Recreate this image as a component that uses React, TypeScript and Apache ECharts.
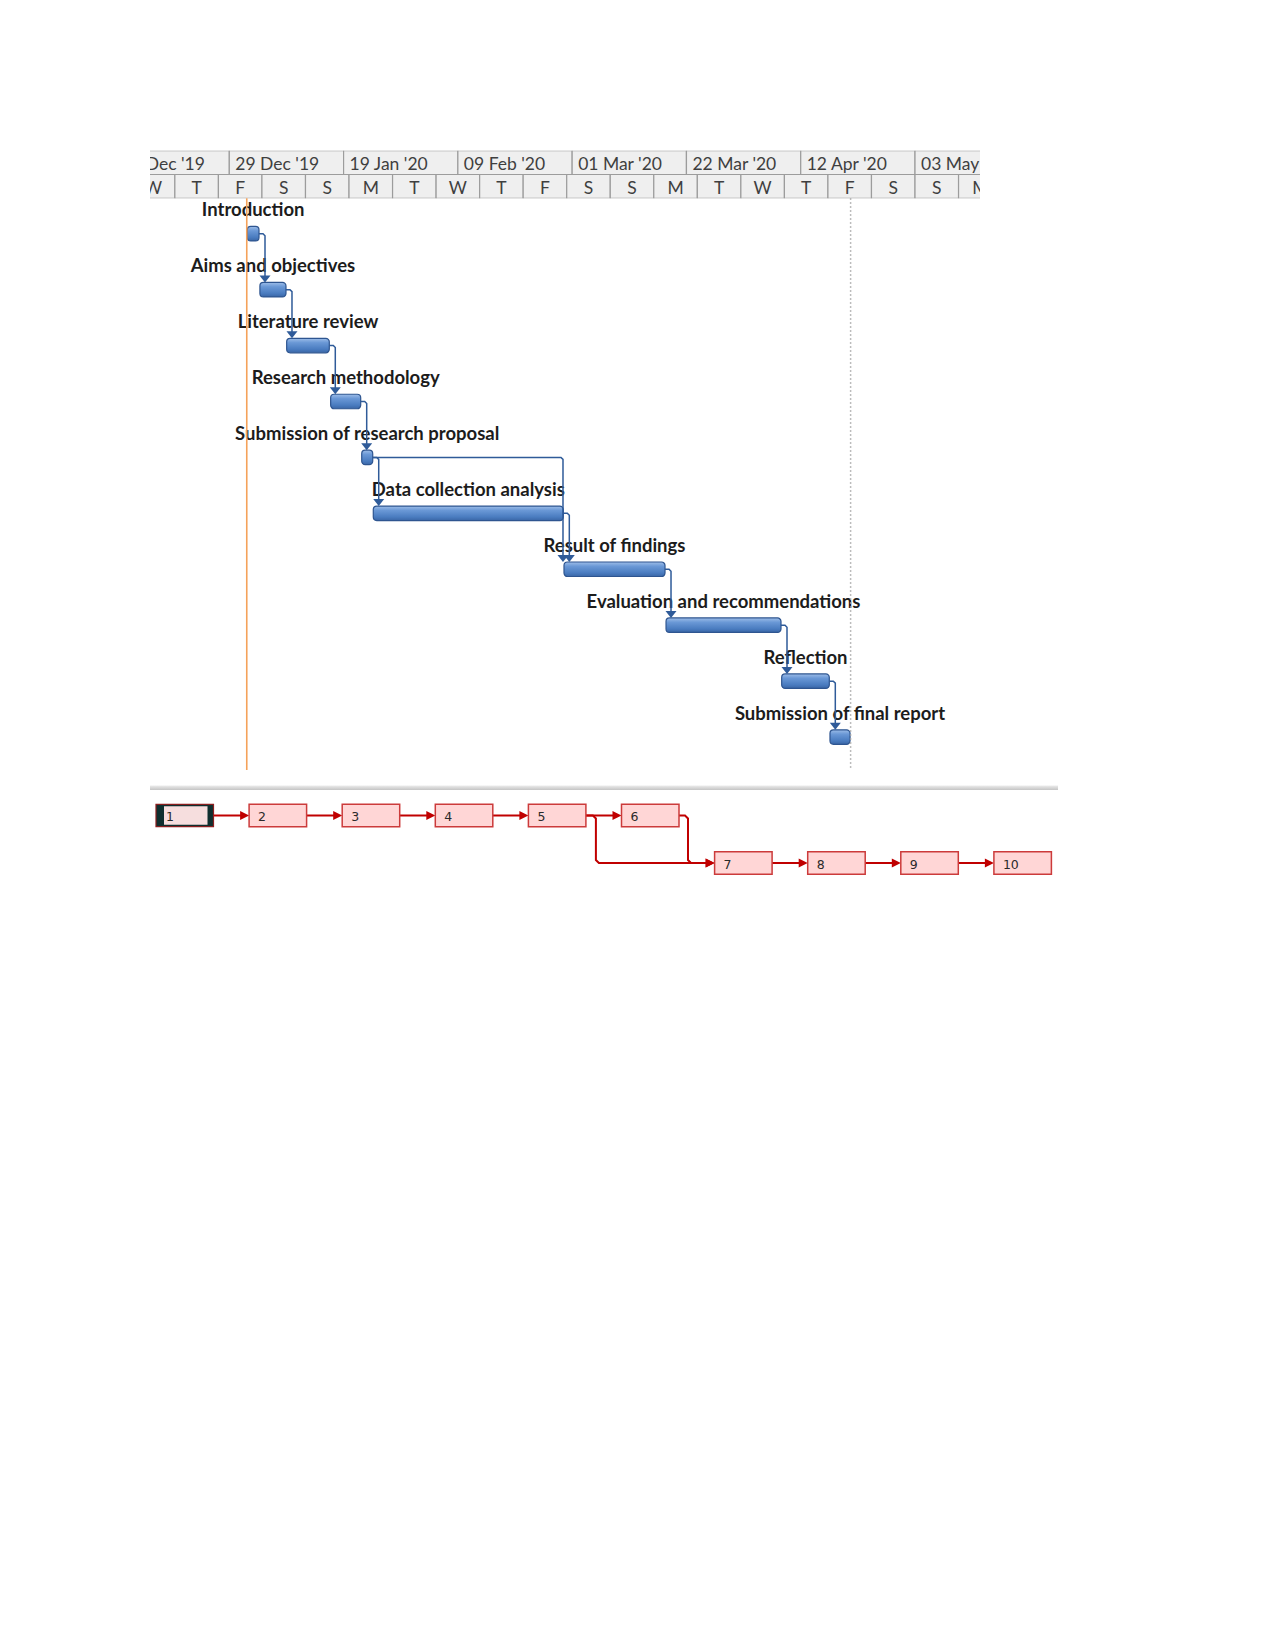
import React, { useEffect, useRef } from "react";
import * as echarts from "echarts";

// ---------- DATA ----------
const taskNames = [
  "Introduction",
  "Aims and objectives",
  "Literature review",
  "Research methodology",
  "Submission of research proposal",
  "Data collection analysis",
  "Result of findings",
  "Evaluation and recommendations",
  "Reflection",
  "Submission of final report",
];
const taskStarts = [
  "2020-01-01 07:30",
  "2020-01-03 15:00",
  "2020-01-08 13:00",
  "2020-01-16 15:00",
  "2020-01-22 08:00",
  "2020-01-24 11:00",
  "2020-02-28 12:00",
  "2020-03-18 06:00",
  "2020-04-08 12:00",
  "2020-04-17 09:00",
];
const taskEnds = [
  "2020-01-03 11:00",
  "2020-01-08 10:00",
  "2020-01-16 09:00",
  "2020-01-22 03:30",
  "2020-01-24 08:30",
  "2020-02-28 09:00",
  "2020-03-18 01:30",
  "2020-04-08 09:00",
  "2020-04-17 06:00",
  "2020-04-21 01:30",
];
// dependencies (task numbers, 1-based)
const linkFrom = [1, 2, 3, 4, 5, 5, 6, 7, 8, 9];
const linkTo = [2, 3, 4, 5, 6, 7, 7, 8, 9, 10];

const statusDate = "2020-01-01 05:00";
const finishDate = "2020-04-21 04:00";
const viewStart = "2019-12-14 10:19";
const viewEnd = "2020-05-14 22:34";

// timescale tiers
const majorTickStarts = [
  "2019-12-08", "2019-12-29", "2020-01-19", "2020-02-09",
  "2020-03-01", "2020-03-22", "2020-04-12", "2020-05-03", "2020-05-24",
];
const majorTickLabels = [
  "08 Dec '19", "29 Dec '19", "19 Jan '20", "09 Feb '20",
  "01 Mar '20", "22 Mar '20", "12 Apr '20", "03 May '20",
];
const minorTickStarts = [
  "2019-12-11", "2019-12-19", "2019-12-27", "2020-01-04", "2020-01-12",
  "2020-01-20", "2020-01-28", "2020-02-05", "2020-02-13", "2020-02-21",
  "2020-02-29", "2020-03-08", "2020-03-16", "2020-03-24", "2020-04-01",
  "2020-04-09", "2020-04-17", "2020-04-25", "2020-05-03", "2020-05-11",
  "2020-05-19",
];
const minorTickLabels = [
  "W", "T", "F", "S", "S", "M", "T", "W", "T", "F",
  "S", "S", "M", "T", "W", "T", "F", "S", "S", "M",
];

// network diagram nodes (column / row in the diagram grid)
const nodeIds = ["1", "2", "3", "4", "5", "6", "7", "8", "9", "10"];
const nodeCols = [0, 1, 2, 3, 4, 5, 6, 7, 8, 9];
const nodeRows = [0, 0, 0, 0, 0, 0, 1, 1, 1, 1];
const selectedNode = 0;

// ---------- HELPERS ----------
const parseT = (s: string) => {
  const [d, tm = "00:00"] = s.split(" ");
  const [Y, M, D] = d.split("-").map(Number);
  const [h, m] = tm.split(":").map(Number);
  return new Date(Y, M - 1, D, h, m).getTime();
};

export default function App() {
  const ref = useRef<HTMLDivElement>(null);

  useEffect(() => {
    const chart = echarts.init(ref.current!, null, { renderer: "svg" });
    const xMin = parseT(viewStart);
    const xMax = parseT(viewEnd);

    const headerCells: any[] = [];
    const headerText: string[] = [];
    majorTickLabels.forEach((lab, i) => {
      headerCells.push([parseT(majorTickStarts[i]), parseT(majorTickStarts[i + 1]), 0]);
      headerText.push(lab);
    });
    minorTickLabels.forEach((lab, i) => {
      headerCells.push([parseT(minorTickStarts[i]), parseT(minorTickStarts[i + 1]), 1]);
      headerText.push(lab);
    });

    const barData = taskNames.map((_, i) => [parseT(taskStarts[i]), parseT(taskEnds[i]), i]);
    const linkData = linkFrom.map((f, i) => [f - 1, linkTo[i] - 1]);
    const BAR_H = 14.5;
    const LINK = "#2f5b99";

    const nodeData = nodeIds.map((_, i) => [i, nodeCols[i], nodeRows[i]]);
    const BOX_W = 57.5;
    const BOX_H = 22.4;
    const RED = "#c00000";

    const axisOff = { show: false, splitLine: { show: false } };

    const option: any = {
      animation: false,
      backgroundColor: "#ffffff",
      grid: [
        { left: 150, width: 830, top: 150.7, height: 47.6 },
        { left: 150, width: 830, top: 198.3, height: 571.7 },
        { left: 156, width: 931, top: 791.75, height: 95 },
      ],
      xAxis: [
        { type: "time", gridIndex: 0, min: xMin, max: xMax, ...axisOff },
        { type: "time", gridIndex: 1, min: xMin, max: xMax, ...axisOff },
        { type: "value", gridIndex: 2, min: 0, max: 10, ...axisOff },
      ],
      yAxis: [
        { type: "value", gridIndex: 0, min: 0, max: 2, inverse: true, ...axisOff },
        { type: "value", gridIndex: 1, min: -0.633, max: 9.589, inverse: true, ...axisOff },
        { type: "value", gridIndex: 2, min: -0.5, max: 1.5, inverse: true, ...axisOff },
      ],
      graphic: [
        {
          type: "rect",
          shape: { x: 150, y: 785.5, width: 908, height: 4.5 },
          style: {
            fill: {
              type: "linear", x: 0, y: 0, x2: 0, y2: 1,
              colorStops: [
                { offset: 0, color: "#ececec" },
                { offset: 1, color: "#c4c4c4" },
              ],
            },
          },
          z: 1,
        },
      ],
      series: [
        // timescale header
        {
          type: "custom",
          xAxisIndex: 0,
          yAxisIndex: 0,
          clip: true,
          data: headerCells,
          renderItem: (params: any, api: any) => {
            const tier = api.value(2);
            const p0 = api.coord([api.value(0), tier]);
            const p1 = api.coord([api.value(1), tier + 1]);
            const label = headerText[params.dataIndex];
            return {
              type: "group",
              children: [
                {
                  type: "rect",
                  shape: { x: p0[0], y: p0[1], width: p1[0] - p0[0], height: p1[1] - p0[1] },
                  style: { fill: "#efefef", stroke: "#9c9c9c", lineWidth: 1.2 },
                },
                {
                  type: "text",
                  style: {
                    text: label,
                    x: tier === 0 ? p0[0] + 6 : (p0[0] + p1[0]) / 2,
                    y: (p0[1] + p1[1]) / 2 + 1,
                    align: tier === 0 ? "left" : "center",
                    verticalAlign: "middle",
                    fill: "#3f3f3f",
                    font: "17.5px Lato",
                  },
                },
              ],
            };
          },
        },
        // task bars + labels
        {
          type: "custom",
          xAxisIndex: 1,
          yAxisIndex: 1,
          z: 3,
          data: barData,
          renderItem: (params: any, api: any) => {
            const p0 = api.coord([api.value(0), api.value(2)]);
            const p1 = api.coord([api.value(1), api.value(2)]);
            return {
              type: "group",
              children: [
                {
                  type: "rect",
                  shape: { x: p0[0], y: p0[1] - BAR_H / 2, width: p1[0] - p0[0], height: BAR_H, r: 3.5 },
                  style: {
                    fill: {
                      type: "linear", x: 0, y: 0, x2: 0, y2: 1,
                      colorStops: [
                        { offset: 0, color: "#9dbde8" },
                        { offset: 0.3, color: "#6a98d6" },
                        { offset: 0.75, color: "#4a7cc0" },
                        { offset: 1, color: "#3a66a6" },
                      ],
                    },
                    stroke: "#2e5590",
                    lineWidth: 1.2,
                  },
                },
                {
                  type: "text",
                  style: {
                    text: taskNames[params.dataIndex],
                    x: (p0[0] + p1[0]) / 2,
                    y: p0[1] - 24.5,
                    align: "center",
                    verticalAlign: "middle",
                    fill: "#1c1c1c",
                    font: "bold 18.5px Lato",
                  },
                },
              ],
            };
          },
        },
        // dependency links
        {
          type: "custom",
          xAxisIndex: 1,
          yAxisIndex: 1,
          z: 5,
          data: linkData,
          renderItem: (params: any, api: any) => {
            const f = api.value(0);
            const t = api.value(1);
            const a = api.coord([parseT(taskEnds[f]), f]);
            const b = api.coord([parseT(taskStarts[t]), t]);
            const vx = Math.max(a[0] + 6, b[0] - 1);
            const top = b[1] - BAR_H / 2;
            return {
              type: "group",
              children: [
                {
                  type: "polyline",
                  shape: { points: [[a[0], a[1]], [vx - 2, a[1]], [vx, a[1] + 2], [vx, top - 6]] },
                  style: { stroke: LINK, lineWidth: 1.5, fill: null },
                },
                {
                  type: "polygon",
                  shape: { points: [[vx - 5.5, top - 7], [vx + 5.5, top - 7], [vx, top]] },
                  style: { fill: LINK },
                },
              ],
            };
          },
        },
        // status date and finish lines
        {
          type: "custom",
          xAxisIndex: 1,
          yAxisIndex: 1,
          z: 6,
          data: [[parseT(statusDate), 0], [parseT(finishDate), 1]],
          renderItem: (params: any, api: any) => {
            const p = api.coord([api.value(0), 0]);
            const cs = params.coordSys;
            const isStatus = params.dataIndex === 0;
            return {
              type: "line",
              shape: { x1: p[0], y1: cs.y, x2: p[0], y2: cs.y + cs.height },
              style: isStatus
                ? { stroke: "#f5a25a", lineWidth: 1.6 }
                : { stroke: "#a6a6a6", lineWidth: 1.5, lineDash: [1.5, 2.5] },
            };
          },
        },
        // network diagram links
        {
          type: "custom",
          xAxisIndex: 2,
          yAxisIndex: 2,
          z: 3,
          data: linkData,
          renderItem: (params: any, api: any) => {
            const f = api.value(0);
            const t = api.value(1);
            const a = api.coord([nodeCols[f], nodeRows[f]]);
            const b = api.coord([nodeCols[t], nodeRows[t]]);
            const ax = a[0] + BOX_W;
            const bx = b[0];
            let pts: number[][];
            if (nodeRows[f] === nodeRows[t]) {
              pts = [[ax, a[1]], [bx - 8, b[1]]];
            } else {
              const vx = ax + (nodeCols[t] - nodeCols[f] > 1 ? 10 : 9);
              pts = [[ax, a[1]], [vx - 3, a[1]], [vx, a[1] + 3], [vx, b[1] - 3], [vx + 3, b[1]], [bx - 8, b[1]]];
            }
            return {
              type: "group",
              children: [
                { type: "polyline", shape: { points: pts }, style: { stroke: RED, lineWidth: 2, fill: null } },
                {
                  type: "polygon",
                  shape: { points: [[bx - 9, b[1] - 4.5], [bx - 9, b[1] + 4.5], [bx, b[1]]] },
                  style: { fill: RED },
                },
              ],
            };
          },
        },
        // network diagram boxes
        {
          type: "custom",
          xAxisIndex: 2,
          yAxisIndex: 2,
          z: 4,
          data: nodeData,
          renderItem: (params: any, api: any) => {
            const i = params.dataIndex;
            const p = api.coord([api.value(1), api.value(2)]);
            const x = p[0];
            const y = p[1] - BOX_H / 2;
            const children: any[] = [];
            if (i === selectedNode) {
              children.push({
                type: "rect",
                shape: { x, y, width: BOX_W, height: BOX_H },
                style: { fill: "#0f2f2f", stroke: "#8a1f1f", lineWidth: 1.2 },
              });
              children.push({
                type: "rect",
                shape: { x: x + 8, y: y + 2, width: BOX_W - 14, height: BOX_H - 4 },
                style: { fill: "#f6dede" },
              });
            } else {
              children.push({
                type: "rect",
                shape: { x, y, width: BOX_W, height: BOX_H },
                style: { fill: "#ffd6d6", stroke: "#cc3b3b", lineWidth: 1.5 },
              });
            }
            children.push({
              type: "text",
              style: {
                text: nodeIds[i],
                x: x + (i === selectedNode ? 10 : 9),
                y: p[1] + 1,
                align: "left",
                verticalAlign: "middle",
                fill: "#2a2a2a",
                font: "12.5px 'DejaVu Sans'",
              },
            });
            return { type: "group", children };
          },
        },
      ],
    };

    chart.setOption(option);
    return () => chart.dispose();
  }, []);

  return (
    <div
      ref={ref}
      style={{ position: "absolute", left: 0, top: 0, width: 1275, height: 1650 }}
    />
  );
}
